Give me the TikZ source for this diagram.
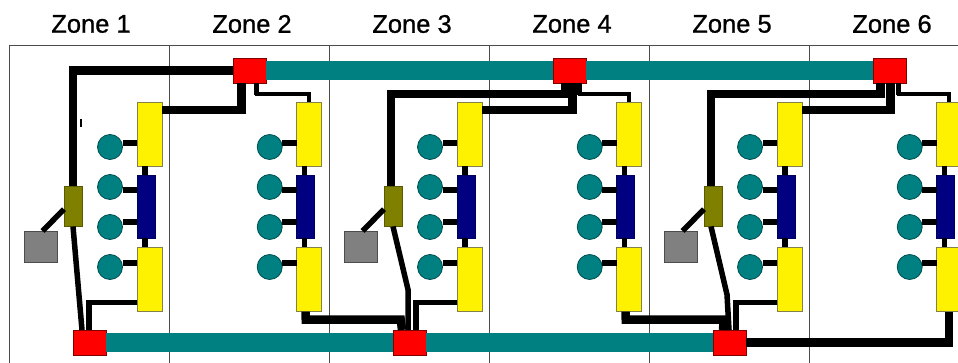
\documentclass[tikz,border=0pt]{standalone}
\usepackage{fontspec}
\setmainfont{Liberation Sans}
\newfontfamily\zonefont[FakeBold=0.9]{Liberation Sans}
\definecolor{tealc}{HTML}{008080}
\definecolor{olivec}{HTML}{808000}
\definecolor{navyc}{HTML}{000080}
\definecolor{grayc}{HTML}{808080}
\tikzset{
  box/.style={rectangle,inner sep=0pt,outer sep=0pt,anchor=north west,line width=.8pt},
  yellowbox/.style={box,fill=yellow,draw=black!55!yellow,minimum width=25pt,minimum height=64.5pt},
  bluebox/.style={box,fill=navyc,draw=navyc!70!black,minimum width=18pt,minimum height=63pt},
  olivebox/.style={box,fill=olivec,draw=olivec!70!black,minimum width=18pt,minimum height=40.5pt},
  graybox/.style={box,fill=grayc,draw=black!70,minimum width=33pt,minimum height=31.5pt},
  redbox/.style={box,fill=red,draw=red!50!black,minimum width=33pt,minimum height=25pt},
  dot/.style={circle,inner sep=0pt,outer sep=0pt,fill=tealc,draw=tealc!60!black,line width=.8pt,minimum size=25pt},
  zonelabel/.style={font=\zonefont\fontsize{25.5}{27}\selectfont,inner sep=0pt},
  divider/.style={line width=1pt,draw=black!70},
  bus/.style={line width=19pt,draw=tealc},
  heavy/.style={line width=8.5pt,draw=black},
  medium/.style={line width=5.5pt,draw=black},
  light/.style={line width=3.5pt,draw=black},
}
% #1 column name, #2 left offset
\newcommand{\zonecolumn}[2]{%
  \node[yellowbox] (#1u) at (#2+137,102) {};
  \node[bluebox]   (#1b) at (#2+137,175) {};
  \node[yellowbox] (#1l) at (#2+137,247) {};
  \node[dot] (#1d1) at (#2+110,147) {};
  \node[dot] (#1d2) at (#2+110,187) {};
  \node[dot] (#1d3) at (#2+110,227) {};
  \node[dot] (#1d4) at (#2+110,267) {};
  \draw[medium] ([xshift=8pt]#1u.south west) -- ([xshift=8pt]#1b.north west);
  \draw[medium] ([xshift=8pt]#1b.south west) -- ([xshift=8pt]#1l.north west);
  \draw[medium] ([yshift=4pt]#1d1.east) -- ([yshift=4pt]#1d1.east -| #1u.west);
  \draw[medium] ([yshift=-3pt]#1d2.east) -- ([yshift=-3pt]#1d2.east -| #1b.west);
  \draw[medium] ([yshift=5pt]#1d3.east) -- ([yshift=5pt]#1d3.east -| #1b.west);
  \draw[medium] ([yshift=4pt]#1d4.east) -- ([yshift=4pt]#1d4.east -| #1l.west);
}
% #1 column, #2 left offset
\newcommand{\sourcepair}[2]{%
  \node[olivebox] (#1o) at (#2+64,186) {};
  \node[graybox]  (#1g) at (#2+24,231) {};
  \draw[medium] ([yshift=-3pt]#1o.west) -- ([xshift=2pt]#1g.north);
}
\begin{document}
\begin{tikzpicture}[x=1pt,y=-1pt]
\useasboundingbox (0,0) rectangle (958,363);
\clip (0,0) rectangle (958,363);
\coordinate (topL) at (9,46);
\coordinate (topR) at (958,46);
\coordinate (botL) at (9,363);
\draw[line width=1pt,draw=black!70] (botL) -- (topL) -- (topR);
\foreach \x/\n in {169/a,329/b,489/c,649/d,809/e}{
  \coordinate (dt\n) at (\x,46);
  \coordinate (db\n) at (\x,363);
  \draw[divider] (dt\n) -- (db\n);
}
\foreach \x/\n in {91/1,252/2,412/3,572/4,732/5,892/6}{
  \node[zonelabel] (label\n) at (\x,24) {Zone \n};
}
\zonecolumn{za}{0}
\zonecolumn{zb}{159.7}
\zonecolumn{zc}{320}
\zonecolumn{zd}{479.7}
\zonecolumn{ze}{640}
\zonecolumn{zf}{799.7}
\sourcepair{za}{0}
\sourcepair{zc}{320}
\sourcepair{ze}{640}
\node[redbox] (t1) at (233,58) {};
\node[redbox] (t2) at (553,58) {};
\node[redbox] (t3) at (873,58) {};
\node[redbox] (b1) at (73,330) {};
\node[redbox] (b2) at (393,330) {};
\node[redbox] (b3) at (713,330) {};
\draw[bus] (t1.east) -- (t2.west);
\draw[bus] (t2.east) -- (t3.west);
\draw[bus] (b1.east) -- (b2.west);
\draw[bus] (b2.east) -- (b3.west);
% stray tick beside the zone 1 riser
\coordinate (tickA) at (81,119);
\coordinate (tickB) at (81,127);
\draw[line width=1.8pt,draw=black] (tickA) -- (tickB);
% zone 1 and 2
\draw[heavy] (t1.west) -| ([xshift=-9pt]zao.north east);
\draw[heavy] ([xshift=-8pt]t1.south) |- ([yshift=-8pt]zau.north east);
\draw[light] ([xshift=7pt]t1.south) -- ++(0,11) -| (zbu.north);
\draw[medium] ([xshift=7pt]t1.south) -- ++(0,12);
\draw[medium] ([xshift=-9pt]zao.south east) -- ([xshift=9pt]b1.north west);
\draw[medium] ([yshift=9pt]zal.south west) -| ([xshift=16pt]b1.north west);
\draw[heavy] ([xshift=9pt]zbl.south west) |- ++(-4,8) -- ++(99,0) -- ([xshift=9pt]b2.north west);
% zone 3 and 4
\draw[heavy] ([xshift=-4pt]t2.south) -- ++(0,11) -| ([xshift=-2pt]zco.north);
\draw[heavy] ([xshift=3pt]t2.south) |- ([yshift=-8pt]zcu.north east);
\draw[light] ([xshift=10pt]t2.south) -- ++(0,11) -| (zdu.north);
\draw[medium] ([xshift=10pt]t2.south) -- ++(0,12);
\draw[medium] (zco.south) -- ++(15,63) -- ([xshift=15pt]b2.north west);
\draw[medium] ([yshift=9pt]zcl.south west) -| ([xshift=23pt]b2.north west);
\draw[heavy] ([xshift=9pt]zdl.south west) |- ++(-4,8) -- ++(102,0) -- ([xshift=10pt]b3.north west);
% zone 5 and 6
\draw[heavy] ([xshift=-9pt]t3.south) -- ++(0,11) -| ([xshift=-2pt]zeo.north);
\draw[heavy] ([xshift=1pt]t3.south) |- ([yshift=-8pt]zeu.north east);
\draw[light] ([xshift=9pt]t3.south) -- ++(0,11) -| (zfu.north);
\draw[medium] ([xshift=9pt]t3.south) -- ++(0,12);
\draw[medium] ([xshift=-2pt]zeo.south) -- ++(16,68) -- ([xshift=16pt]b3.north west);
\draw[medium] ([yshift=9pt]zel.south west) -| ([xshift=23pt]b3.north west);
\draw[heavy] (b3.east) -| (zfl.south);
\end{tikzpicture}
\end{document}
